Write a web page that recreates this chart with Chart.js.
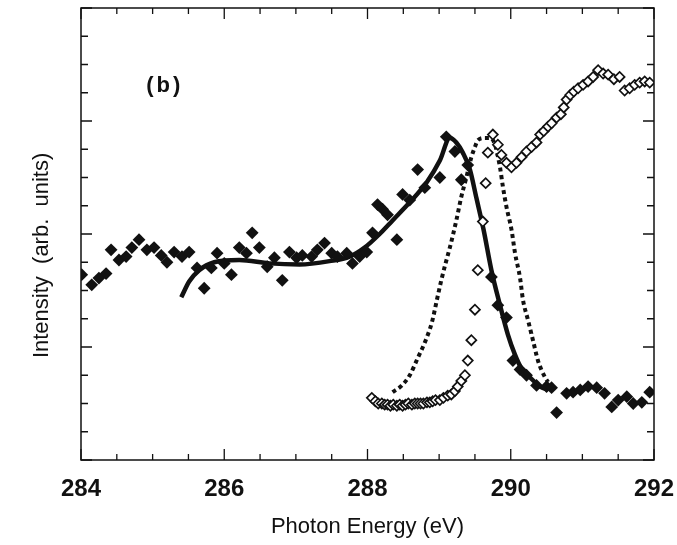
<!DOCTYPE html>
<html>
<head>
<meta charset="utf-8">
<script src="https://cdn.jsdelivr.net/npm/chart.js@4"></script>
<style>
  html, body { margin: 0; padding: 0; background: #fff; overflow: hidden; }
  canvas { display: block; }
</style>
</head>
<body>
<canvas id="c" width="677" height="545"></canvas>
<script>
// ---- data ----
const xTickLabels = [284, 286, 288, 290, 292];

// filled diamonds (measured spectrum)
const filledX = [284.01,284.15,284.25,284.35,284.42,284.53,284.63,284.71,284.81,284.92,285.02,285.12,285.20,285.30,285.41,285.51,285.62,285.72,285.82,285.90,286.00,286.10,286.21,286.31,286.39,286.49,286.60,286.70,286.81,286.91,287.01,287.09,287.22,287.30,287.40,287.50,287.58,287.71,287.79,287.89,287.99,288.07,288.14,288.21,288.28,288.41,288.49,288.59,288.70,288.80,289.01,289.10,289.22,289.31,289.40,289.73,289.82,289.94,290.03,290.13,290.22,290.36,290.50,290.57,290.64,290.78,290.87,290.97,291.08,291.20,291.31,291.41,291.50,291.62,291.71,291.83,291.94];
const filledY = [1.64,1.55,1.61,1.65,1.86,1.77,1.80,1.88,1.95,1.86,1.88,1.81,1.75,1.84,1.80,1.84,1.70,1.52,1.70,1.83,1.74,1.64,1.88,1.83,2.01,1.88,1.71,1.79,1.59,1.84,1.79,1.81,1.80,1.86,1.92,1.83,1.80,1.83,1.74,1.80,1.84,2.01,2.26,2.22,2.17,1.95,2.35,2.30,2.57,2.41,2.50,2.86,2.73,2.48,2.61,1.62,1.37,1.26,0.88,0.80,0.75,0.66,0.65,0.64,0.42,0.59,0.60,0.62,0.65,0.64,0.59,0.47,0.53,0.56,0.50,0.51,0.60];

// open diamonds (reference spectrum)
const openX = [288.06,288.11,288.15,288.20,288.24,288.28,288.32,288.36,288.41,288.45,288.49,288.53,288.57,288.62,288.66,288.70,288.74,288.78,288.83,288.87,288.91,288.95,289.01,289.06,289.12,289.17,289.22,289.26,289.31,289.36,289.40,289.45,289.50,289.54,289.61,289.65,289.68,289.75,289.82,289.87,289.94,290.01,290.08,290.15,290.22,290.29,290.36,290.41,290.46,290.52,290.57,290.64,290.70,290.74,290.78,290.83,290.88,290.94,291.01,291.08,291.15,291.22,291.29,291.36,291.44,291.52,291.59,291.66,291.73,291.80,291.87,291.94];
const openY = [0.55,0.52,0.50,0.50,0.49,0.49,0.48,0.49,0.48,0.49,0.48,0.49,0.50,0.49,0.50,0.50,0.50,0.50,0.51,0.51,0.52,0.53,0.53,0.55,0.57,0.58,0.61,0.65,0.70,0.75,0.88,1.06,1.33,1.68,2.11,2.45,2.72,2.88,2.79,2.70,2.63,2.59,2.63,2.68,2.73,2.77,2.81,2.88,2.91,2.95,2.98,3.03,3.06,3.12,3.19,3.23,3.26,3.29,3.32,3.35,3.39,3.45,3.42,3.41,3.37,3.39,3.27,3.29,3.32,3.34,3.35,3.34];

// solid fitted curve
const fitX = [285.40,285.51,285.65,285.86,286.21,286.63,287.05,287.47,287.75,287.96,288.17,288.35,288.59,288.83,289.01,289.15,289.24,289.33,289.43,289.52,289.62,289.73,289.85,289.96,290.06,290.15,290.27,290.41,290.52];
const fitY = [1.44,1.58,1.68,1.75,1.77,1.74,1.73,1.76,1.80,1.88,2.00,2.12,2.28,2.46,2.65,2.85,2.81,2.72,2.57,2.32,2.04,1.68,1.37,1.11,0.93,0.81,0.73,0.65,0.62];

// dotted curve
const dotX = [288.35,288.48,288.59,288.70,288.80,288.90,288.97,289.03,289.09,289.15,289.24,289.31,289.38,289.45,289.50,289.54,289.64,289.71,289.78,289.85,289.89,289.94,290.01,290.06,290.13,290.17,290.24,290.31,290.38,290.48,290.52];
const dotY = [0.60,0.66,0.75,0.90,1.04,1.22,1.42,1.59,1.74,1.88,2.12,2.33,2.50,2.68,2.77,2.83,2.85,2.85,2.79,2.59,2.42,2.24,2.04,1.83,1.61,1.42,1.24,1.06,0.88,0.73,0.69];

const pts = (xs, ys) => xs.map((x, i) => ({ x: x, y: ys[i] }));

const INK = '#111';
const FONT = "'Liberation Sans', Arial, sans-serif";

// frame + inward ticks on all four sides, from the scales
const framePlugin = {
  id: 'frame',
  afterDraw(chart) {
    const { ctx, chartArea: a, scales: { x, y } } = chart;
    ctx.save();
    ctx.strokeStyle = INK;
    ctx.lineWidth = 1.5;
    ctx.strokeRect(a.left, a.top, a.right - a.left, a.bottom - a.top);
    ctx.lineWidth = 1.3;
    for (let v = x.min; v <= x.max + 1e-9; v += 0.5) {
      const px = x.getPixelForValue(v);
      const len = (Math.abs((v - 284) % 2) < 1e-6) ? 11 : 6;
      ctx.beginPath();
      ctx.moveTo(px, a.bottom); ctx.lineTo(px, a.bottom - len);
      ctx.moveTo(px, a.top); ctx.lineTo(px, a.top + len);
      ctx.stroke();
    }
    for (let v = y.min; v <= y.max + 1e-9; v += 0.25) {
      const py = y.getPixelForValue(v);
      const len = (Math.abs(v % 1) < 1e-6) ? 11 : 7;
      ctx.beginPath();
      ctx.moveTo(a.left, py); ctx.lineTo(a.left + len, py);
      ctx.moveTo(a.right, py); ctx.lineTo(a.right - len, py);
      ctx.stroke();
    }
    // panel label
    ctx.fillStyle = INK;
    ctx.font = "bold 22px " + FONT;
    ctx.textAlign = 'center';
    ctx.textBaseline = 'middle';
    try { ctx.letterSpacing = '3px'; } catch (e) {}
    ctx.fillText('(b)', x.getPixelForValue(285.17), y.getPixelForValue(3.31));
    ctx.restore();
  }
};

new Chart(document.getElementById('c'), {
  type: 'scatter',
  data: {
    datasets: [
      {
        label: 'measured',
        data: pts(filledX, filledY),
        pointStyle: 'rectRot',
        pointRadius: 6.4,
        backgroundColor: INK,
        borderColor: INK,
        borderWidth: 0,
        showLine: false
      },
      {
        label: 'reference',
        data: pts(openX, openY),
        pointStyle: 'rectRot',
        pointRadius: 5,
        backgroundColor: '#fff',
        borderColor: INK,
        borderWidth: 1.7,
        showLine: false
      },
      {
        label: 'fit',
        data: pts(fitX, fitY),
        showLine: true,
        pointRadius: 0,
        borderColor: INK,
        borderWidth: 4.5,
        cubicInterpolationMode: 'monotone',
        fill: false
      },
      {
        label: 'dotted',
        data: pts(dotX, dotY),
        showLine: true,
        pointRadius: 0,
        borderColor: INK,
        borderWidth: 4,
        borderDash: [4, 3.5],
        borderCapStyle: 'butt',
        cubicInterpolationMode: 'monotone',
        fill: false
      }
    ]
  },
  options: {
    responsive: false,
    animation: false,
    layout: { padding: { top: 8, right: 23, left: 0, bottom: 0 } },
    plugins: { legend: { display: false }, tooltip: { enabled: false } },
    scales: {
      x: {
        type: 'linear',
        min: 284, max: 292,
        afterBuildTicks: s => { s.ticks = xTickLabels.map(v => ({ value: v })); },
        afterFit: s => { s.height = 85; s.paddingLeft = 0; s.paddingRight = 0; },
        grid: { display: false, drawTicks: false },
        border: { display: false },
        ticks: {
          autoSkip: false, maxRotation: 0, padding: 15, color: INK,
          font: { family: FONT, size: 24, weight: 'bold' }
        },
        title: {
          display: true, text: 'Photon Energy (eV)', color: INK,
          font: { family: FONT, size: 22 },
          padding: { top: 0, bottom: 5 }
        }
      },
      y: {
        type: 'linear',
        min: 0, max: 4,
        afterFit: s => { s.width = 81; s.paddingTop = 0; s.paddingBottom = 0; },
        grid: { display: false, drawTicks: false },
        border: { display: false },
        ticks: { display: false },
        title: {
          display: true, text: 'Intensity  (arb.  units)\u00a0\u00a0\u00a0\u00a0\u00a0\u00a0\u00a0', color: INK,
          font: { family: FONT, size: 22 },
          padding: { top: 29, bottom: 0 }
        }
      }
    }
  },
  plugins: [framePlugin]
});
</script>
</body>
</html>
